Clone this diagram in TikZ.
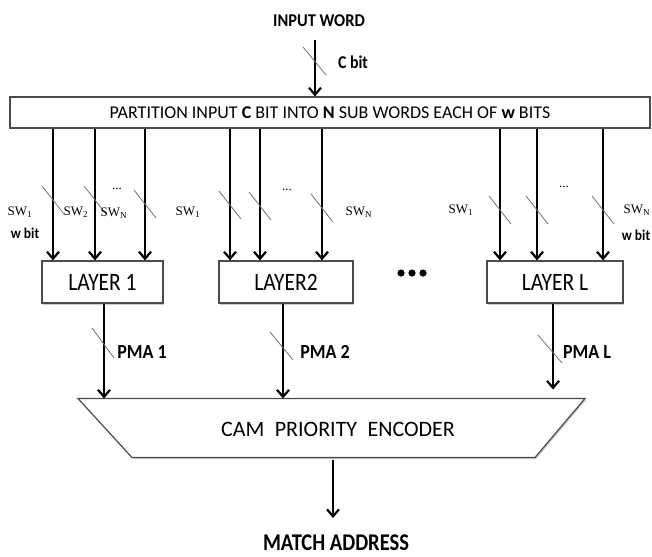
\documentclass[tikz,border=0pt]{standalone}
\usepackage{fontspec}
\usepackage{graphicx}
\setmainfont{Carlito}
\newfontfamily\swfont{Liberation Serif}
\usetikzlibrary{arrows.meta,shadows}
\newcommand{\hs}[2]{\scalebox{#1}[1]{#2}}
\newcommand{\fs}[1]{\fontsize{#1}{#1}\selectfont}
\begin{document}
\begin{tikzpicture}[x=1pt,y=-1pt,
  arr/.style={line width=2.2pt,-{Straight Barb[length=7pt,width=12pt]}},
  slash/.style={draw=black!55,line width=0.8pt},
  box/.style={draw=black!70,line width=1.2pt,fill=white,inner sep=0pt,
    drop shadow={shadow xshift=1.2pt,shadow yshift=-1.5pt,fill=black!40,opacity=0.5}},
  lbl/.style={inner sep=0pt,font=\fs{18}\bfseries},
  sw/.style={inner sep=0pt,font=\swfont\fs{13}},
  pma/.style={inner sep=0pt,font=\fs{20}\bfseries}]
\useasboundingbox (0,0) rectangle (652,556);

% input
\node[lbl] (inw) at (319,21) {\hs{0.91}{INPUT WORD}};
\node[box,minimum width=640pt,minimum height=31pt,font=\fs{18}] (part) at (330,112.5)
  {PARTITION INPUT \textbf{C} BIT INTO \textbf{N} SUB WORDS EACH OF \textbf{w} BITS};
\coordinate (inTop) at (315,40);
\draw[arr] (inTop) -- (inTop |- part.north);
\draw[slash] (303,47) -- (326,75);
\node[lbl] (cbit) at (353,62) {\hs{0.88}{C bit}};

% layers
\node[box,minimum width=121pt,minimum height=42pt,font=\fs{25}] (L1) at (102.5,282) {\hs{0.86}{LAYER 1}};
\node[box,minimum width=134pt,minimum height=42pt,font=\fs{25}] (L2) at (286,282) {\hs{0.86}{LAYER2}};
\node[box,minimum width=136pt,minimum height=42pt,font=\fs{25}] (LL) at (555,282) {\hs{0.86}{LAYER L}};

% sub-word arrows
\foreach \x/\l/\yc in {53/L1/200,95/L1/200,145/L1/204,230/L2/205,260/L2/206,322/L2/208,500/LL/210,537/LL/210,603/LL/210}{
  \coordinate (s\x) at (\x,0);
  \draw[arr] (s\x |- part.south) -- (s\x |- \l.north);
  \draw[slash] (\x-11,\yc-14) -- (\x+11,\yc+14);
}

% sub-word labels
\node[sw] (a1) at (20,212) {SW\textsubscript{1}};
\node[sw] (a2) at (76,212) {SW\textsubscript{2}};
\node[sw] (an) at (114,213) {SW\textsubscript{N}};
\node[sw] (ad) at (117,189) {...};
\node[lbl,font=\fs{15}\bfseries] (aw) at (25,233) {\hs{0.9}{w bit}};
\node[sw] (b1) at (188,212) {SW\textsubscript{1}};
\node[sw] (bd) at (287,190) {...};
\node[sw] (bn) at (359,212) {SW\textsubscript{N}};
\node[sw] (c1) at (461,210) {SW\textsubscript{1}};
\node[sw] (cd) at (564,187) {...};
\node[sw] (cn) at (637,210) {SW\textsubscript{N}};
\node[lbl,font=\fs{15}\bfseries] (cw) at (636,235) {\hs{0.9}{w bit}};

% dots between layers
\foreach \x in {401,412,423}{\fill (\x,273) circle (3.6pt);}

% encoder
\coordinate (camt) at (0,398.5);
\coordinate (camb) at (333,457.5);
\draw[draw=black!70,line width=1.2pt,fill=white,
  drop shadow={shadow xshift=1.2pt,shadow yshift=-1.5pt,fill=black!40,opacity=0.5}]
  (78,398.5) -- (585,398.5) -- (535,457.5) -- (132,457.5) -- cycle;
\node[inner sep=0pt,font=\fs{22}] (cam) at (338,429) {CAM\hspace{0.25em} PRIORITY\hspace{0.25em} ENCODER};

% PMA arrows
\coordinate (p1) at (104,0);
\coordinate (p2) at (283,0);
\coordinate (p3) at (553,0);
\draw[arr] (p1 |- L1.south) -- (p1 |- camt);
\draw[arr] (p2 |- L2.south) -- (p2 |- camt);
\draw[arr] (p3 |- LL.south) -- ([yshift=9pt]p3 |- camt);
\draw[slash] (92,328) -- (114,358);
\draw[slash] (270,332) -- (293,360);
\draw[slash] (538,335) -- (562,363);
\node[pma] (m1) at (142,352) {\hs{0.9}{PMA 1}};
\node[pma] (m2) at (325,352) {\hs{0.9}{PMA 2}};
\node[pma] (m3) at (587,352) {\hs{0.9}{PMA L}};

% output
\node[inner sep=0pt,font=\fs{24}\bfseries] (out) at (336,543) {\hs{0.855}{MATCH ADDRESS}};
\draw[arr] ([yshift=-2pt]camb) -- (camb |- 0,518);
\end{tikzpicture}
\end{document}
